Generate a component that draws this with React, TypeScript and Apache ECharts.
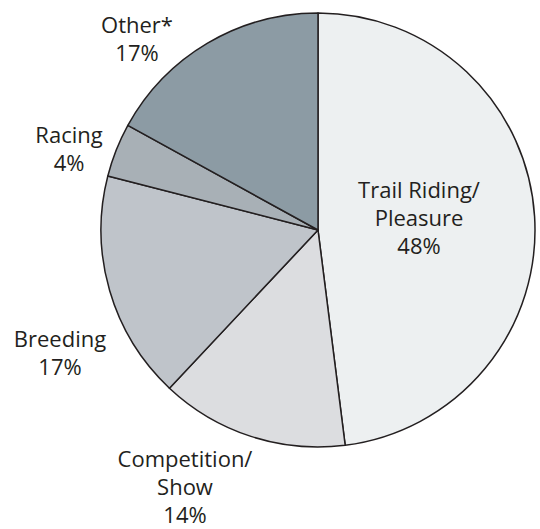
import React, { useEffect, useRef } from "react";
import * as echarts from "echarts";

const categories = ["Trail Riding/\nPleasure", "Competition/\nShow", "Breeding", "Racing", "Other*"];
const values = [48, 14, 17, 4, 17];
const colors = ["#edf0f1", "#dcdde0", "#bfc4ca", "#a8b0b6", "#8c9ba4"];
// label block centres (layout only)
const labelPos: [number, number][] = [
  [419, 217],
  [185, 486],
  [60, 352],
  [69, 148],
  [137, 38],
];

export default function App() {
  const ref = useRef<HTMLDivElement>(null);
  useEffect(() => {
    if (!ref.current) return;
    const chart = echarts.init(ref.current, null, { renderer: "svg" });
    chart.setOption({
      animation: false,
      backgroundColor: "#ffffff",
      series: [
        {
          type: "pie",
          center: [318, 230],
          radius: [0, 217],
          startAngle: 90,
          clockwise: true,
          avoidLabelOverlap: false,
          itemStyle: { borderColor: "#231f20", borderWidth: 1.5 },
          labelLine: { show: false },
          label: {
            show: true,
            position: "outside",
            formatter: (p: any) => `${p.name}\n${p.value}%`,
            fontFamily: "Open Sans",
            fontSize: 22,
            lineHeight: 28,
            color: "#231f20",
            align: "center",
          },
          labelLayout: (p: any) => {
            const pos = labelPos[p.dataIndex];
            return { x: pos[0], y: pos[1], align: "center", verticalAlign: "middle" };
          },
          emphasis: { disabled: true },
          data: categories.map((c, i) => ({
            name: c,
            value: values[i],
            itemStyle: { color: colors[i] },
          })),
        },
      ],
    });
    return () => chart.dispose();
  }, []);
  return (
    <div
      ref={ref}
      style={{ position: "fixed", left: 0, top: 0, width: 540, height: 529 }}
    />
  );
}
